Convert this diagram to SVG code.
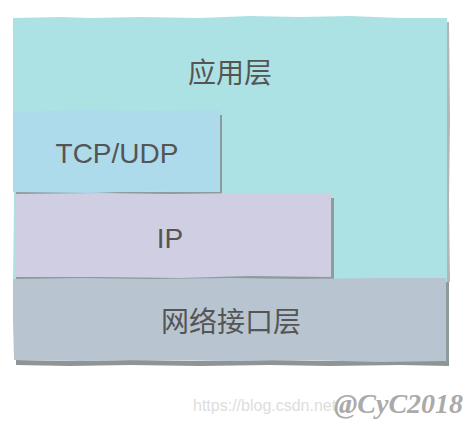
<svg xmlns="http://www.w3.org/2000/svg" width="475" height="425" viewBox="0 0 475 425">
<style>
.lbl{fill:#555555;text-anchor:middle;}
.cjk{font-family:"Noto Sans CJK SC","Noto Sans",sans-serif;font-size:28px;}
.lat{font-family:"Liberation Sans",Arial,sans-serif;font-size:28px;}
.sh{fill:#8E9B9D;}
</style>
<rect width="475" height="425" fill="#ffffff"/>
<g id="app">
<path d="M446 22 L449 22 L450 120 L449 200 L450 282 L446 282 Z" fill="#B5B5B5"/>
<path d="M13 18 L60 17 L90 18 L140 17 L200 18 L250 16 L300 17 L350 16 L400 18 L447 18 L447 282 L13 282 L14 200 L13 120 Z" fill="#ADE2E4"/>
<text class="lbl cjk" x="230" y="83">应用层</text>
</g>
<g id="tcp">
<path class="sh" d="M218 115 L222 115 L222 197 L16 197 L16 192 L218 192 Z"/>
<path d="M13 112 L80 110 L150 111 L220 110 L220 192 L150 191 L90 193 L13 192 Z" fill="#AEDBEB"/>
<text class="lbl lat" x="117" y="163">TCP/UDP</text>
</g>
<g id="ip">
<path class="sh" d="M329 198 L334 198 L334 281 L16 281 L16 276 L329 276 Z"/>
<path d="M15 194 L100 193 L170 194 L250 193 L331 193 L331 277 L250 276 L180 278 L100 277 L15 277 Z" fill="#D0CEE2"/>
<text class="lbl lat" x="170" y="248">IP</text>
</g>
<g id="net">
<path d="M16 360 L70 361 L130 360 L200 361 L270 360 L330 361 L400 360 L449 360 L449 366 L400 365 L330 366 L270 365 L200 366 L130 365 L70 366 L16 365 Z" fill="#8F9494"/>
<path d="M445 282 L449 282 L449 362 L445 362 Z" fill="#8E9B9D"/>
<path d="M13 279 L80 278 L150 279 L230 278 L300 279 L380 278 L446 278 L446 361 L380 362 L300 360 L230 361 L150 360 L80 361 L14 360 L13 320 Z" fill="#B8C5D1"/>
<text class="lbl cjk" x="231" y="332">网络接口层</text>
</g>
<g id="watermark">
<text x="193" y="411" font-family="Liberation Sans, Arial, sans-serif" font-size="16" fill="#dddddd">https://blog.csdn.net</text>
<text x="334" y="413" font-family="Liberation Serif, serif" font-style="italic" font-weight="bold" font-size="28" fill="#aaaaaa">@CyC2018</text>
</g>
</svg>
